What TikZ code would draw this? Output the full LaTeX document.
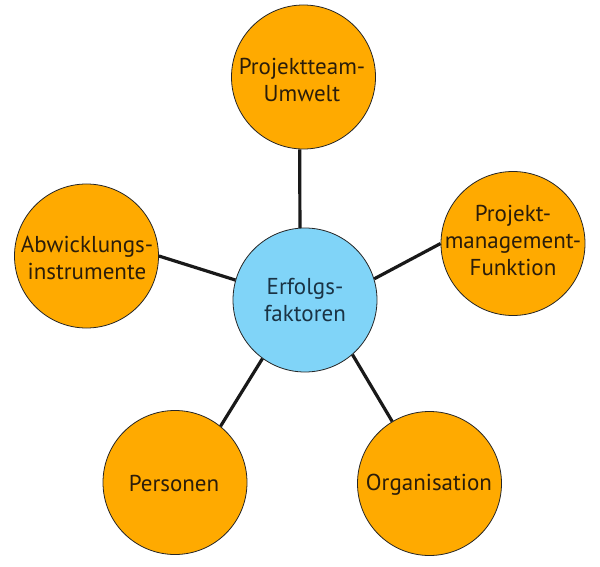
\documentclass[tikz,border=0pt]{standalone}
\usepackage{fontspec}
\setmainfont{PT Sans}
\definecolor{orangefill}{HTML}{FFAA00}
\definecolor{bluefill}{HTML}{80D4F8}
\definecolor{txtbrown}{HTML}{2B1D0A}
\definecolor{txtblue}{HTML}{1A3344}
\begin{document}
\begin{tikzpicture}[x=1pt,y=-1pt,
  bubble/.style={circle, draw=black!85, line width=0.8pt, minimum size=144pt, inner sep=0pt},
  orangebubble/.style={bubble, fill=orangefill},
  bluebubble/.style={bubble, fill=bluefill},
  lbl/.style={align=center, inner sep=0pt, font=\fontsize{23}{27}\selectfont, text=txtbrown},
  conn/.style={line width=3.2pt, draw=black!90}]
\useasboundingbox (0,0) rectangle (600,567);
\fill[white] (0,0) rectangle (600,567);

\node[bluebubble]   (ctr)  at (305,300)   {};
\node[orangebubble] (top)  at (303.5,77)  {};
\node[orangebubble] (lft)  at (86.5,256)  {};
\node[orangebubble] (rgt)  at (513,243.5) {};
\node[orangebubble] (pers) at (175,482.5) {};
\node[orangebubble] (org)  at (429.5,483.5) {};

\node[lbl, text=txtblue] (ctrT) at (305,300) {Erfolgs-\\faktoren};
\node[lbl] (topT)  at (302,80)  {Projektteam-\\Umwelt};
\node[lbl] (lftT)  at (87,258)  {Abwicklungs-\\instrumente};
\node[lbl] (rgtT)  at (513,240) {Projekt-\\management-\\Funktion};
\node[lbl] (persT) at (174,483) {Personen};
\node[lbl] (orgT)  at (429,485) {Organisation};

\draw[conn] (ctr.94)  -- (top.267);
\draw[conn] (ctr.164) -- (lft.0);
\draw[conn] (ctr.17)  -- (rgt.180);
\draw[conn] (ctr.234) -- (pers.51);
\draw[conn] (ctr.311) -- (org.121);
\end{tikzpicture}
\end{document}
